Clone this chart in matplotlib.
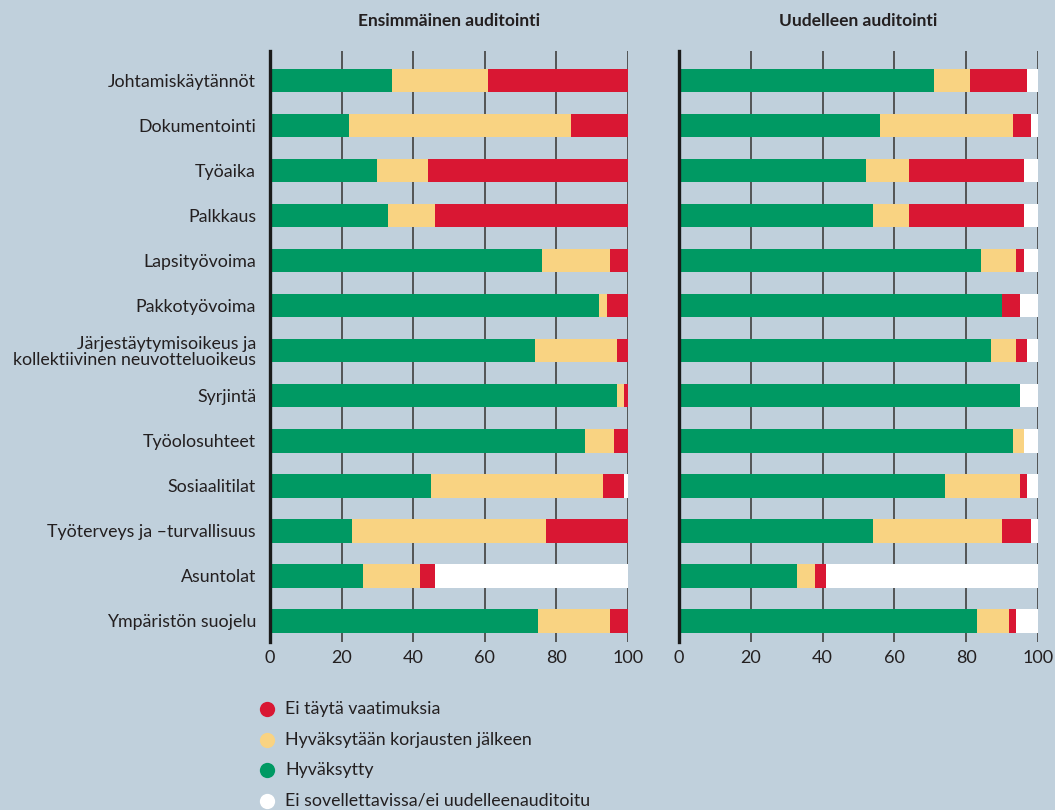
import matplotlib
matplotlib.use('Agg')
import matplotlib.pyplot as plt
from matplotlib.lines import Line2D

plt.rcParams['font.family'] = ['Lato', 'DejaVu Sans']

# Categories, top to bottom
categories = [
    'Johtamiskäytännöt',
    'Dokumentointi',
    'Työaika',
    'Palkkaus',
    'Lapsityövoima',
    'Pakkotyövoima',
    'Järjestäytymisoikeus ja\nkollektiivinen neuvotteluoikeus',
    'Syrjintä',
    'Työolosuhteet',
    'Sosiaalitilat',
    'Työterveys ja –turvallisuus',
    'Asuntolat',
    'Ympäristön suojelu',
]

# Ensimmäinen auditointi (%)
first_ok = [34, 22, 30, 33, 76, 92, 74, 97, 88, 45, 23, 26, 75]
first_fix = [27, 62, 14, 13, 19, 2, 23, 2, 8, 48, 54, 16, 20]
first_fail = [39, 16, 56, 54, 5, 6, 3, 1, 4, 6, 23, 4, 5]
first_na = [0, 0, 0, 0, 0, 0, 0, 0, 0, 1, 0, 54, 0]

# Uudelleen auditointi (%)
re_ok = [71, 56, 52, 54, 84, 90, 87, 95, 93, 74, 54, 33, 83]
re_fix = [10, 37, 12, 10, 10, 0, 7, 0, 3, 21, 36, 5, 9]
re_fail = [16, 5, 32, 32, 2, 5, 3, 0, 0, 2, 8, 3, 2]
re_na = [3, 2, 4, 4, 4, 5, 3, 5, 4, 3, 2, 59, 6]

titles = ['Ensimmäinen auditointi', 'Uudelleen auditointi']
legend_labels = ['Ei täytä vaatimuksia', 'Hyväksytään korjausten jälkeen',
                 'Hyväksytty', 'Ei sovellettavissa/ei uudelleenauditoitu']
xticks = [0, 20, 40, 60, 80, 100]

bg = '#c0d0dc'
green = '#009963'
yellow = '#f9d382'
red = '#d91733'
white = '#ffffff'
text_color = '#231f20'
fs = 12.8

fig = plt.figure(figsize=(10.55, 8.1), dpi=100, facecolor=bg)
ax1 = fig.add_axes([270 / 1055, 1 - 642 / 810, 358 / 1055, 591 / 810])
ax2 = fig.add_axes([679 / 1055, 1 - 642 / 810, 359 / 1055, 591 / 810])

panels = [
    (ax1, first_ok, first_fix, first_fail, first_na),
    (ax2, re_ok, re_fix, re_fail, re_na),
]

ypos = list(range(len(categories)))
for i, (ax, ok, fix, fail, na) in enumerate(panels):
    ax.set_facecolor(bg)
    left = [0] * len(categories)
    for vals, col in [(ok, green), (fix, yellow), (fail, red), (na, white)]:
        ax.barh(ypos, vals, left=left, height=0.52, color=col,
                edgecolor='none', zorder=3)
        left = [l + v for l, v in zip(left, vals)]

    # vertical grid lines at the tick positions
    for t in xticks[1:]:
        ax.axvline(t, color='#4a4a4a', lw=1.3, zorder=1)

    ax.set_xlim(0, 100)
    ax.set_ylim(12.47, -0.66)
    ax.set_xticks(xticks)
    ax.tick_params(axis='x', length=0, pad=6, labelsize=13,
                   labelcolor=text_color)
    for s in ['top', 'right', 'bottom']:
        ax.spines[s].set_visible(False)
    ax.spines['left'].set_color('#1a1a1a')
    ax.spines['left'].set_linewidth(2.4)
    ax.spines['left'].set_zorder(4)

    if i == 0:
        ax.set_yticks(ypos)
        ax.set_yticklabels(categories, linespacing=1.0)
        ax.tick_params(axis='y', length=0, pad=10, labelsize=fs,
                       labelcolor=text_color)
    else:
        ax.set_yticks([])

    ax.set_title(titles[i], fontsize=12.5, fontweight='bold',
                 color=text_color, pad=18)

# Legend below the charts
legend_colors = [red, yellow, green, white]
for j, (lab, col) in enumerate(zip(legend_labels, legend_colors)):
    y = 1 - (709 + j * 30.5) / 810
    fig.add_artist(Line2D([267 / 1055], [y], marker='o', markersize=11,
                          color=col, markeredgewidth=0,
                          transform=fig.transFigure))
    fig.text(285 / 1055, y, lab, fontsize=fs, color=text_color,
             va='center', ha='left')

fig.savefig('out.png', dpi=100, facecolor=bg)
